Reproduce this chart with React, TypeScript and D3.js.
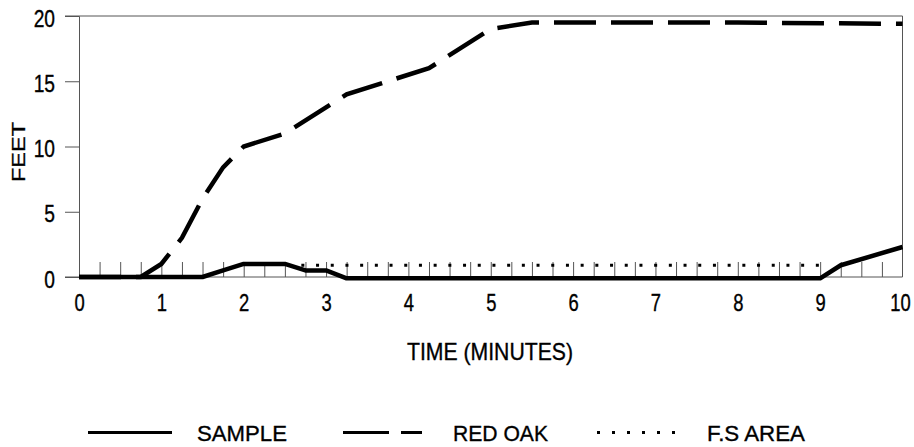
import { useEffect, useRef } from 'react';
import * as d3 from 'd3';

const timeTicks = [0, 1, 2, 3, 4, 5, 6, 7, 8, 9, 10];
const feetTicks = [0, 5, 10, 15, 20];
const minorTimeTicks = d3.range(1, 40).map((i) => i * 0.25);

const sampleTime = [0, 1.5, 1.75, 2, 2.5, 2.75, 3, 3.25, 9, 9.25, 10];
const sampleFeet = [0, 0, 0.5, 1, 1, 0.5, 0.5, -0.1, -0.1, 0.9, 2.3];

const redOakTime = [0, 0.75, 1, 1.25, 1.5, 1.75, 2, 2.5, 3, 3.25, 4.25, 4.6, 5, 5.5, 8, 10];
const redOakFeet = [0, 0, 1, 3, 6, 8.4, 10, 11, 13, 14, 16, 17.4, 19, 19.5, 19.5, 19.4];

const fsAreaTime = [2.7, 9.1];
const fsAreaFeet = [0.9, 0.9];

const legendItems = [
  { label: 'SAMPLE', dash: 'none' },
  { label: 'RED OAK', dash: '46,12' },
  { label: 'F.S AREA', dash: '3,12' },
];

const WIDTH = 914;
const HEIGHT = 447;
const FONT = '"Liberation Sans", Arial, Helvetica, sans-serif';
const NARROW = 0.8;

export default function App() {
  const ref = useRef<SVGSVGElement>(null);

  useEffect(() => {
    const svgElement = ref.current;
    if (!svgElement) {
      return;
    }
    const svg = d3.select(svgElement);
    svg.selectAll('*').remove();

    const margin = { top: 16, right: 11.5, bottom: 170, left: 79 };
    const x = d3.scaleLinear().domain([0, 10]).range([margin.left, WIDTH - margin.right]);
    const y = d3.scaleLinear().domain([0, 20]).range([HEIGHT - margin.bottom, margin.top]);
    const axisColor = '#555';

    // frame: top and right edges
    svg
      .append('path')
      .attr('d', `M${x(0) - 14},${y(20)}H${x(10)}V${y(0)}`)
      .attr('fill', 'none')
      .attr('stroke', axisColor)
      .attr('stroke-width', 1);

    // y axis
    const yAxis = svg
      .append('g')
      .attr('transform', `translate(${x(0)},0)`)
      .call(d3.axisLeft(y).tickValues(feetTicks).tickSize(14).tickPadding(10));
    yAxis.select('.domain').attr('stroke', axisColor);
    yAxis.selectAll('line').attr('stroke', axisColor);
    yAxis
      .selectAll('text')
      .attr('font-family', FONT)
      .attr('font-size', 24)
      .attr('dy', '0.42em')
      .attr('x', -24 / NARROW)
      .attr('transform', `scale(${NARROW},1)`)
      .attr('fill', '#000')
      .attr('stroke', '#000')
      .attr('stroke-width', 0.35);

    // x axis with labels
    const xAxis = svg
      .append('g')
      .attr('transform', `translate(0,${y(0)})`)
      .call(
        d3
          .axisBottom(x)
          .tickValues(timeTicks)
          .tickSize(0)
          .tickFormat((d) => String(d))
      );
    xAxis.select('.domain').remove();
    xAxis
      .selectAll<SVGTextElement, number>('text')
      .attr('y', 34)
      .attr('dy', 0)
      .attr('x', (d) => (d === 10 ? -2.5 / NARROW : 0))
      .attr('transform', `scale(${NARROW},1)`)
      .attr('font-family', FONT)
      .attr('font-size', 23)
      .attr('fill', '#000')
      .attr('stroke', '#000')
      .attr('stroke-width', 0.35);

    svg
      .append('line')
      .attr('x1', x(0) - 14)
      .attr('x2', x(10))
      .attr('y1', y(0))
      .attr('y2', y(0))
      .attr('stroke', axisColor);

    // minor ticks pointing up into the plot
    const minorAxis = svg
      .append('g')
      .attr('transform', `translate(0,${y(0)})`)
      .call(d3.axisBottom(x).tickValues(minorTimeTicks).tickSize(-15).tickFormat(() => ''));
    minorAxis.select('.domain').remove();
    minorAxis.selectAll('line').attr('stroke', axisColor);

    const line = d3
      .line<[number, number]>()
      .x((d) => x(d[0]))
      .y((d) => y(d[1]));

    const zip = (xs: number[], ys: number[]) => xs.map((v, i) => [v, ys[i]] as [number, number]);

    svg
      .append('path')
      .datum(zip(fsAreaTime, fsAreaFeet))
      .attr('d', line)
      .attr('fill', 'none')
      .attr('stroke', '#000')
      .attr('stroke-width', 3)
      .attr('stroke-dasharray', '3,11.7');

    svg
      .append('path')
      .datum(zip(sampleTime, sampleFeet))
      .attr('d', line)
      .attr('fill', 'none')
      .attr('stroke', '#000')
      .attr('stroke-width', 4.5)
      .attr('stroke-linejoin', 'round');

    svg
      .append('path')
      .datum(zip(redOakTime, redOakFeet))
      .attr('d', line)
      .attr('fill', 'none')
      .attr('stroke', '#000')
      .attr('stroke-width', 4.5)
      .attr('stroke-dasharray', '42,15');

    // axis titles
    svg
      .append('text')
      .attr('x', 407)
      .attr('y', 360)
      .attr('font-family', FONT)
      .attr('font-size', 24)
      .attr('stroke', '#000')
      .attr('stroke-width', 0.35)
      .attr('textLength', 166)
      .attr('lengthAdjust', 'spacingAndGlyphs')
      .text('TIME (MINUTES)');

    svg
      .append('text')
      .attr('transform', 'translate(25,182) rotate(-90)')
      .attr('font-family', FONT)
      .attr('font-size', 18)
      .attr('stroke', '#000')
      .attr('stroke-width', 0.3)
      .attr('textLength', 60)
      .attr('lengthAdjust', 'spacingAndGlyphs')
      .text('FEET');

    // legend
    const legendLines = [
      [88, 172],
      [343, 422],
      [597, 678],
    ];
    const legendText = [197, 453, 707];
    const legendTextWidth = [90, 95, 98];
    const legend = svg.append('g');
    legendItems.forEach((item, i) => {
      legend
        .append('line')
        .attr('x1', legendLines[i][0])
        .attr('x2', legendLines[i][1])
        .attr('y1', 432.5)
        .attr('y2', 432.5)
        .attr('stroke', '#000')
        .attr('stroke-width', 3)
        .attr('stroke-dasharray', item.dash);
      legend
        .append('text')
        .attr('x', legendText[i])
        .attr('y', 441)
        .attr('font-family', FONT)
        .attr('font-size', 22)
        .attr('stroke', '#000')
        .attr('stroke-width', 0.35)
        .attr('textLength', legendTextWidth[i])
        .attr('lengthAdjust', 'spacingAndGlyphs')
        .text(item.label);
    });
  }, []);

  return (
    <svg
      ref={ref}
      width={WIDTH}
      height={HEIGHT}
      style={{ position: 'absolute', left: 0, top: 0, background: '#fff' }}
    />
  );
}
